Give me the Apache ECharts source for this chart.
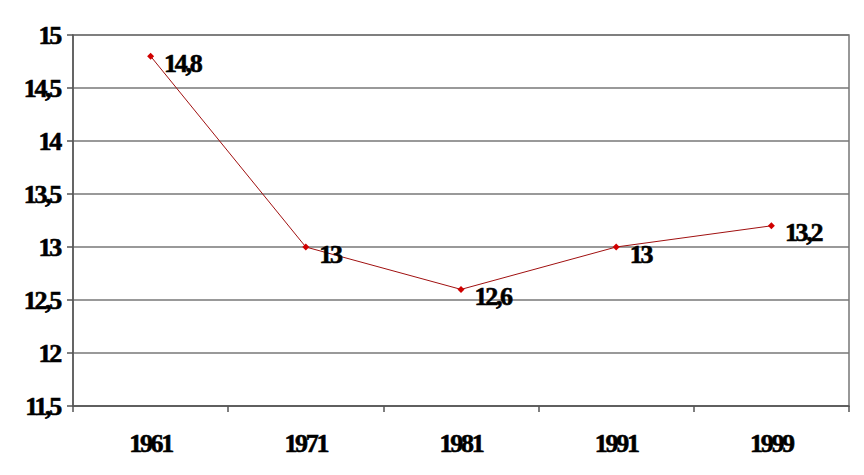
<!DOCTYPE html>
<html>
<head>
<meta charset="utf-8">
<script src="https://cdn.jsdelivr.net/npm/echarts@6/dist/echarts.min.js"></script>
<style>
html,body{margin:0;padding:0;background:#fff;}
#c{width:864px;height:475px;}
#c svg text{letter-spacing:-2.3px;font-family:"Liberation Serif",serif !important;font-weight:bold !important;stroke:#000;stroke-width:0.6px;}
</style>
</head>
<body>
<div id="c"></div>
<script>
const categories = ['1961', '1971', '1981', '1991', '1999'];
const values = [14.8, 13, 12.6, 13, 13.2];
const yTicks = [11.5, 12, 12.5, 13, 13.5, 14, 14.5, 15];

const fmt = v => String(v).replace('.', ',');
const font = 'Liberation Serif';

const chart = echarts.init(document.getElementById('c'), null, {renderer: 'svg'});
chart.setOption({
  animation: false,
  backgroundColor: '#ffffff',
  grid: {left: 73, right: 15, top: 35, bottom: 69, show: true, borderColor: '#777', borderWidth: 1.5, backgroundColor: 'transparent'},
  xAxis: {
    type: 'category',
    data: categories,
    boundaryGap: true,
    axisLine: {lineStyle: {color: '#555', width: 1.5}},
    axisTick: {show: true, length: 6, lineStyle: {color: '#555', width: 1.5}},
    axisLabel: {fontFamily: font, fontWeight: 'bold', fontSize: 26, color: '#000', margin: 24}
  },
  yAxis: {
    type: 'value',
    min: yTicks[0],
    max: yTicks[yTicks.length - 1],
    interval: 0.5,
    axisLine: {show: true, lineStyle: {color: '#555', width: 1.5}},
    axisTick: {show: true, length: 6, lineStyle: {color: '#555', width: 1.5}},
    splitLine: {lineStyle: {color: '#777', width: 1.5}},
    axisLabel: {fontFamily: font, fontWeight: 'bold', fontSize: 26, color: '#000', margin: 13, formatter: fmt}
  },
  series: [{
    type: 'line',
    data: values,
    symbol: 'diamond',
    symbolSize: 7,
    itemStyle: {color: '#d00000'},
    lineStyle: {color: '#a01010', width: 1},
    label: {
      show: true,
      position: 'right',
      distance: 10,
      offset: [0, 7],
      fontFamily: font,
      fontWeight: 'bold',
      fontSize: 26,
      color: '#000',
      formatter: p => fmt(p.value)
    }
  }]
});
</script>
</body>
</html>
